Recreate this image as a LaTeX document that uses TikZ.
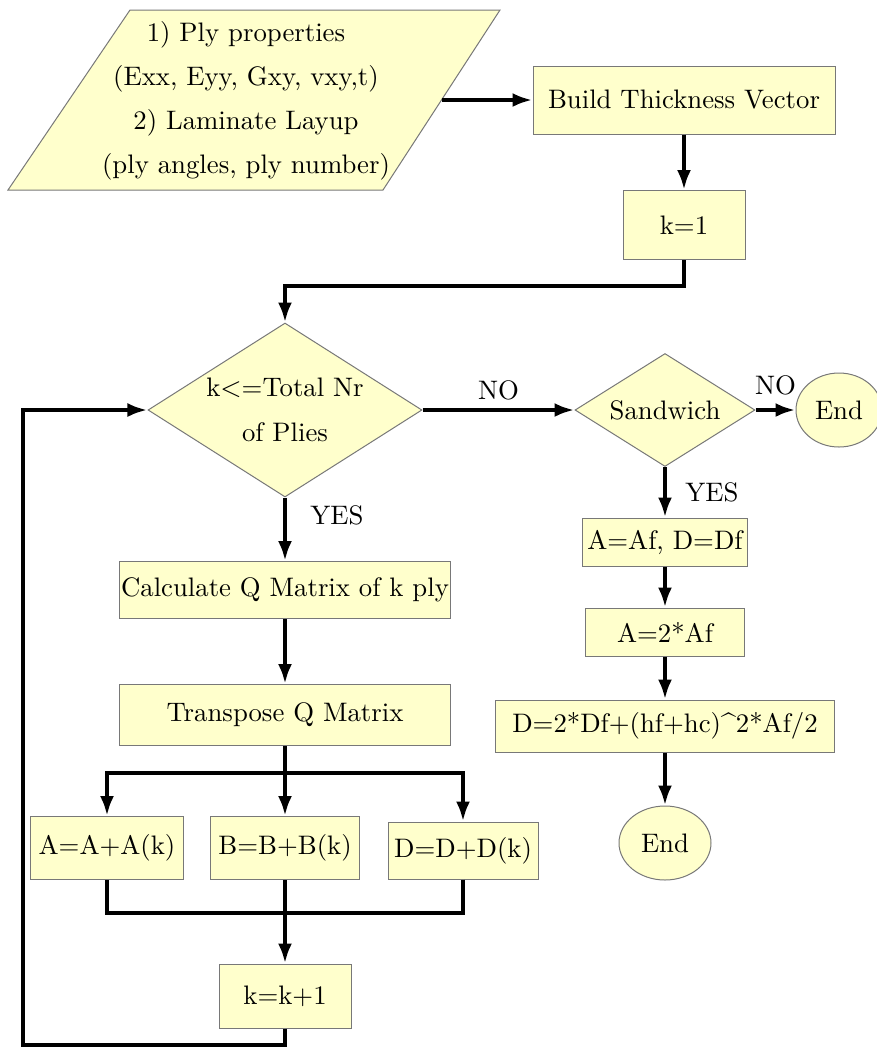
\documentclass[tikz,border=0pt]{standalone}
\usetikzlibrary{shapes.geometric,arrows.meta}
\definecolor{boxfill}{RGB}{255,255,204}
\definecolor{boxline}{RGB}{120,120,120}
\begin{document}
\begin{tikzpicture}[x=0.4pt,y=-0.4pt,
  box/.style={draw=boxline,fill=boxfill,line width=0.4pt,inner sep=0pt,font=\fontsize{10.7}{12.8}\selectfont},
  dia/.style={box,shape=diamond},
  oval/.style={box,shape=ellipse},
  flow/.style={line width=1.6pt,-{Latex[length=8pt,width=5.6pt]}},
  plain/.style={line width=1.6pt},
  lbl/.style={font=\fontsize{10.7}{12.8}\selectfont}]
\useasboundingbox (0,0) rectangle (877,1048);
% input parallelogram
\draw[draw=boxline,fill=boxfill,line width=0.4pt] (130,10) -- (500,10) -- (383,190) -- (8,190) -- cycle;
\node[lbl,align=center] (in) at (246,101) {1) Ply properties\\[4.8pt](Exx, Eyy, Gxy, vxy,t)\\[4.8pt]2) Laminate Layup\\[4.8pt](ply angles, ply number)};
\coordinate (inR) at (441.5,100);
% right top
\node[box,minimum width=120.8pt,minimum height=27.2pt] (build) at (684,100) {Build Thickness Vector};
\node[box,minimum width=48.8pt,minimum height=27.6pt] (k1) at (684,225) {k=1};
% decisions
\node[dia,aspect=1.575,minimum width=109.6pt,minimum height=69.6pt,align=center] (dia1) at (285,410) {k$<$=Total Nr\\[5pt]of Plies};
\node[dia,aspect=1.59,minimum width=72pt,minimum height=45.2pt] (sand) at (665,410) {Sandwich};
\node[oval,minimum width=34.4pt,minimum height=29.6pt] (end1) at (839,410) {End};
% sandwich branch
\node[box,minimum width=66pt,minimum height=19.2pt] (afdf) at (665,542) {A=Af, D=Df};
\node[box,minimum width=63.6pt,minimum height=19.2pt] (a2af) at (665,632) {A=2*Af};
\node[box,minimum width=135.6pt,minimum height=20.8pt] (d2df) at (665,726) {D=2*Df+(hf+hc)\^{}2*Af/2};
\node[oval,minimum width=36.8pt,minimum height=29.6pt] (end2) at (665,843) {End};
% laminate loop
\node[box,minimum width=132.4pt,minimum height=22.8pt] (calc) at (285,590) {Calculate Q Matrix of k ply};
\node[box,minimum width=132.4pt,minimum height=24.4pt] (trans) at (285,715) {Transpose Q Matrix};
\node[box,minimum width=60.8pt,minimum height=25.2pt] (Aa) at (107,848) {A=A+A(k)};
\node[box,minimum width=59.6pt,minimum height=25.2pt] (Bb) at (285,848) {B=B+B(k)};
\node[box,minimum width=60pt,minimum height=22.8pt] (Dd) at (463,850.5) {D=D+D(k)};
\node[box,minimum width=52.8pt,minimum height=25.6pt] (kk) at (285,996) {k=k+1};
\coordinate (split) at (285,773);
\coordinate (join) at (285,913);
\coordinate (loopC) at (23,1045);
% connectors
\draw[flow] (inR) -- (build.west);
\draw[flow] (build) -- (k1);
\draw[flow] (k1.south) -- ++(0,26) -| (dia1.north);
\draw[flow] (dia1.east) -- node[lbl,above] {NO} (sand.west);
\draw[flow] (sand.east) -- node[lbl,above,yshift=2pt] {NO} (end1.west);
\draw[flow] (sand.south) -- node[lbl,right,xshift=4pt] {YES} (afdf.north);
\draw[flow] (afdf) -- (a2af);
\draw[flow] (a2af) -- (d2df);
\draw[flow] (d2df) -- (end2);
\draw[flow] (dia1.south) -- node[lbl,right,pos=0.28,xshift=6pt] {YES} (calc.north);
\draw[flow] (calc) -- (trans);
\draw[plain] (trans.south) -- (split);
\draw[flow] (split) -- (Bb.north);
\draw[flow] (split) -| (Aa.north);
\draw[flow] (split) -| (Dd.north);
\draw[plain] (Aa.south) |- (join);
\draw[plain] (Dd.south) |- (join);
\draw[flow] (Bb.south) -- (kk.north);
\draw[flow] (kk.south) |- (loopC) |- (dia1.west);
\end{tikzpicture}
\end{document}
